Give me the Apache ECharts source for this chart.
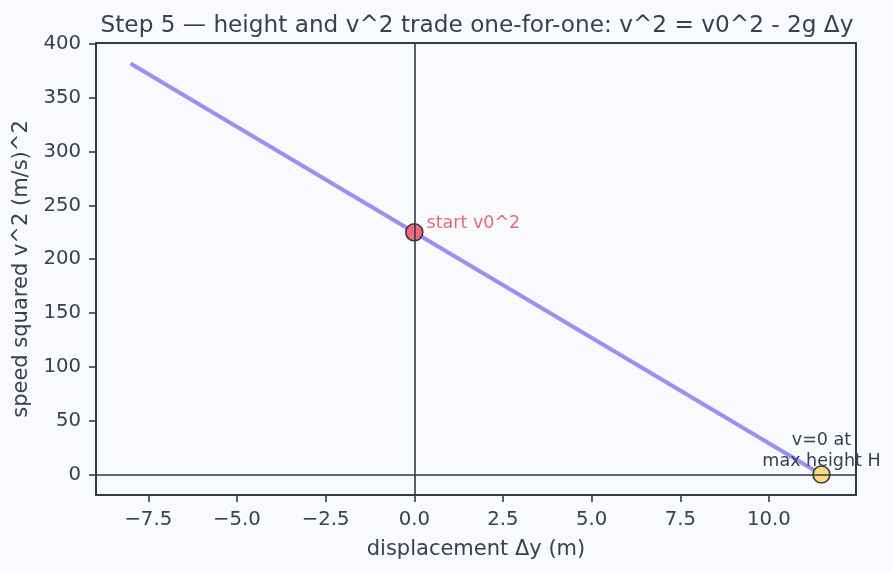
<!DOCTYPE html>
<html><head><meta charset="utf-8">
<script src="https://cdn.jsdelivr.net/npm/echarts@6/dist/echarts.min.js"></script>
<style>html,body{margin:0;padding:0;background:#f9fafd;}#c{width:893px;height:571px;}</style>
</head><body><div id="c"></div>
<script>
// data
const lineDy = [-8, 11.48];
const lineV2 = [381.8, 0];
const startPt = [0, 225];
const apexPt = [11.48, 0];
const xTicks = [-7.5, -5, -2.5, 0, 2.5, 5, 7.5, 10];
const yTicks = [0, 50, 100, 150, 200, 250, 300, 350, 400];
const titleText = 'Step 5 \u2014 height and v^2 trade one-for-one: v^2 = v0^2 - 2g \u0394y';
const xName = 'displacement \u0394y (m)';
const yName = 'speed squared v^2 (m/s)^2';

const txt = '#374151';
const axc = '#2f3a4a';
const font = 'DejaVu Sans';
const chart = echarts.init(document.getElementById('c'), null, {renderer: 'canvas'});
chart.setOption({
  backgroundColor: '#f9fafd',
  animation: false,
  textStyle: {fontFamily: font},
  title: {text: titleText, left: 472, top: 9, textAlign: 'center',
    textStyle: {fontFamily: font, fontSize: 23.2, fontWeight: 'normal', color: txt}},
  grid: {left: 96, right: 37, top: 43, bottom: 76, show: true, borderColor: axc, borderWidth: 2, backgroundColor: 'transparent'},
  xAxis: {type: 'value', min: -8.974, max: 12.454,
    name: xName, nameLocation: 'middle', nameGap: 44,
    nameTextStyle: {fontFamily: font, fontSize: 21, color: txt},
    splitLine: {show: false},
    axisLine: {show: false, onZero: false},
    axisTick: {show: true, length: 7, lineStyle: {color: axc, width: 1.6}, customValues: xTicks},
    axisLabel: {color: txt, fontSize: 19.7, fontFamily: font, margin: 15, customValues: xTicks,
      formatter: v => (v < 0 ? '\u2212' : '') + Math.abs(v).toFixed(1)}
  },
  yAxis: {type: 'value', min: -19.09, max: 400.9,
    name: yName, nameLocation: 'middle', nameGap: 60,
    nameTextStyle: {fontFamily: font, fontSize: 21, color: txt},
    splitLine: {show: false},
    axisLine: {show: false, onZero: false},
    axisTick: {show: true, length: 7, lineStyle: {color: axc, width: 1.6}, customValues: yTicks},
    axisLabel: {color: txt, fontSize: 19.7, fontFamily: font, margin: 15, customValues: yTicks}
  },
  series: [
    {type: 'line', data: [], z: 1,
      markLine: {silent: true, symbol: 'none', label: {show: false},
        lineStyle: {color: axc, width: 1.6, type: 'solid', opacity: 1},
        data: [{xAxis: 0}, {yAxis: 0}]}},
    {type: 'line', data: lineDy.map((d, i) => [d, lineV2[i]]), symbol: 'none', z: 2,
      lineStyle: {color: '#9d8ef0', width: 4}},
    {type: 'scatter', data: [startPt], symbolSize: 17, z: 3,
      itemStyle: {color: '#f26b7a', borderColor: axc, borderWidth: 1.6, opacity: 1},
      label: {show: true, position: 'right', distance: 3, offset: [0, -9], formatter: 'start v0^2',
        color: '#e8677e', fontSize: 17.5, fontFamily: font}},
    {type: 'scatter', data: [apexPt], symbolSize: 17, z: 3,
      itemStyle: {color: '#fcd97a', borderColor: axc, borderWidth: 1.6, opacity: 1},
      label: {show: true, position: 'top', distance: 0, formatter: 'v=0 at\nmax height H', align: 'center',
        color: txt, fontSize: 17.5, fontFamily: font, lineHeight: 21, offset: [0, 7]}}
  ]
});
</script></body></html>
